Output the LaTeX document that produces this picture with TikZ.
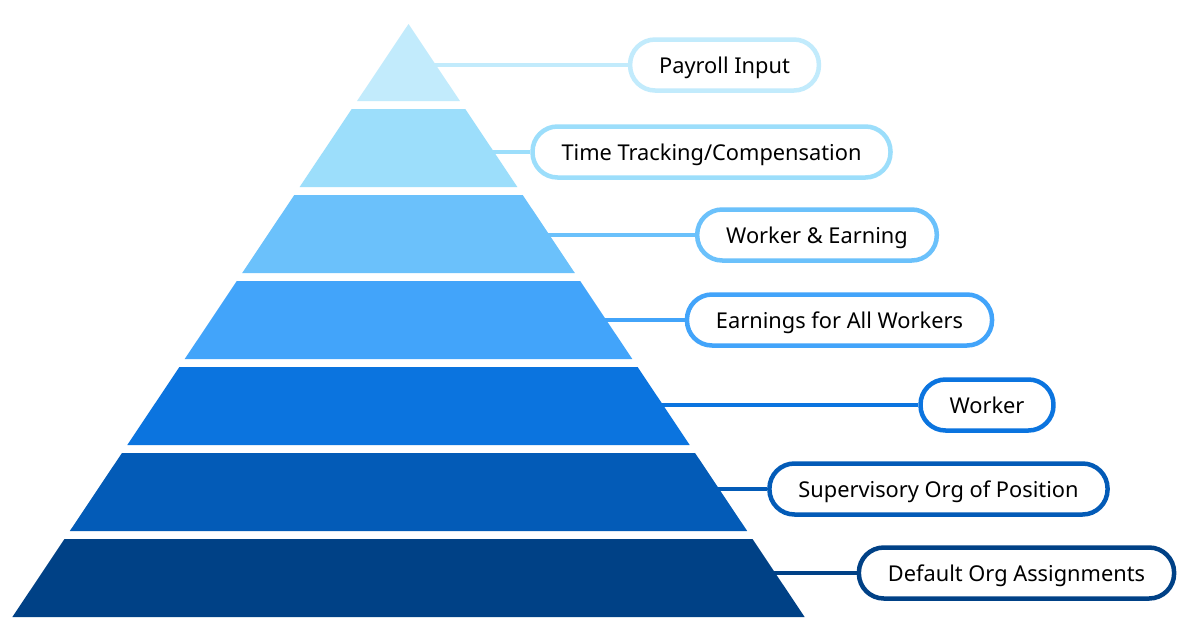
\documentclass[tikz,border=0pt]{standalone}
\usepackage{fontspec}
\setmainfont{Noto Sans}
\usepackage{tikz}
\definecolor{lvA}{HTML}{C2EBFC}
\definecolor{lvB}{HTML}{9CDEFB}
\definecolor{lvC}{HTML}{6BC1FB}
\definecolor{lvD}{HTML}{42A4FA}
\definecolor{lvE}{HTML}{0B74DF}
\definecolor{lvF}{HTML}{035BB7}
\definecolor{lvG}{HTML}{004186}
\tikzset{
  tag/.style={draw=#1,fill=white,line width=4.5pt,rounded corners=25pt,minimum height=51pt,inner xsep=29pt,text height=18pt,text depth=1.5pt,font=\fontsize{21.8pt}{24pt}\selectfont,text=black},
  link/.style={draw=#1,line width=4pt}
}
\begin{document}
\begin{tikzpicture}[line cap=butt,line join=miter,x=1pt,y=-1pt]
\useasboundingbox[fill=white] (0,0) rectangle (1200,632);
% pyramid bands
\foreach \i/\col in {1/lvA,2/lvB,3/lvC,4/lvD,5/lvE,6/lvF,7/lvG}
{
\pgfmathsetmacro{\yb}{101+(\i-1)*86}
\pgfmathsetmacro{\yt}{\i==1 ? 24 : \yb-78}
\pgfmathsetmacro{\wt}{(\yt-24)*0.668}
\pgfmathsetmacro{\wb}{(\yb-24)*0.668}
\fill[color=\col] (408.5-\wt,\yt) -- (408.5+\wt,\yt) -- (408.5+\wb,\yb) -- (408.5-\wb,\yb) -- cycle;
}
% labels
\foreach \i/\col/\cx/\cy/\txt in {1/lvA/724.5/65/{Payroll Input},
  2/lvB/711.5/152/{Time Tracking/Compensation},
  3/lvC/817/235/{Worker \& Earning},
  4/lvD/839.5/320/{Earnings for All Workers},
  5/lvE/987/405/{Worker},
  6/lvF/938.5/489/{Supervisory Org of Position},
  7/lvG/1016.5/573/{Default Org Assignments}}
{
\pgfmathsetmacro{\xe}{408.5+(\cy-24)*0.668-2}
\coordinate (edge\i) at (\xe,\cy);
\node[tag=\col] (lab\i) at (\cx,\cy) {\txt};
\draw[link=\col] (edge\i) -- (lab\i.west);
}
\end{tikzpicture}
\end{document}
